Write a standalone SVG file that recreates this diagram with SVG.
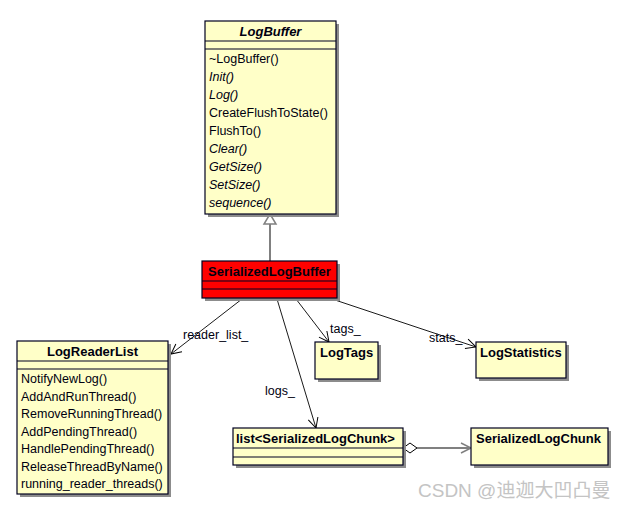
<svg xmlns="http://www.w3.org/2000/svg" width="624" height="510" viewBox="0 0 624 510">
<defs>
<style>
.box{fill:#ffffc8;stroke:#000020;stroke-width:1.2}
.red{fill:#ff0000;stroke:#000020;stroke-width:1.2}
.sh{fill:#8c8c8c}
.sep{stroke:#000020;stroke-width:1.2}
.t{font-family:"Liberation Sans",Arial,sans-serif;font-size:12.5px;fill:#000010}
.i{font-style:italic}
.b{font-weight:bold;font-size:13px}
.assoc{stroke:#000;stroke-width:0.9;fill:none}
.gray{stroke:#808080;stroke-width:2;fill:none}
.lbl{font-family:"Liberation Sans",Arial,sans-serif;font-size:12.5px;fill:#000010}
.wm{font-family:"Liberation Sans","Noto Sans CJK SC",sans-serif;font-size:19px;fill:#c4c4c4}
</style>
<marker id="open" markerUnits="userSpaceOnUse" markerWidth="14" markerHeight="14" refX="11" refY="6" orient="auto" viewBox="0 0 14 12">
<path d="M1,1 L11,6 L1,11" fill="none" stroke="#000" stroke-width="1"/>
</marker>
<marker id="openg" markerUnits="userSpaceOnUse" markerWidth="14" markerHeight="14" refX="11" refY="6" orient="auto" viewBox="0 0 14 12">
<path d="M1,1 L11,6 L1,11" fill="none" stroke="#808080" stroke-width="1.5"/>
</marker>
</defs>
<rect width="624" height="510" fill="#ffffff"/>

<g id="connectors">
<line class="gray" x1="270" y1="261" x2="270" y2="224"/>
<path d="M270,214 L276,224 L264,224 Z" fill="#ffffff" stroke="#808080" stroke-width="1.5"/>
<line class="assoc" x1="242" y1="299" x2="171" y2="354" marker-end="url(#open)"/>
<line class="assoc" x1="277" y1="299" x2="316" y2="428" marker-end="url(#open)"/>
<line class="assoc" x1="296" y1="299" x2="329" y2="342" marker-end="url(#open)"/>
<line class="assoc" x1="335" y1="300" x2="476" y2="347" marker-end="url(#open)"/>
<line class="gray" x1="417" y1="448" x2="471" y2="448" marker-end="url(#openg)"/>
<path d="M403,448 L410,443 L417,448 L410,453 Z" fill="#ffffff" stroke="#000" stroke-width="1"/>
<text class="lbl" x="183" y="339">reader_list_</text>
<text class="lbl" x="265" y="395">logs_</text>
<text class="lbl" x="330" y="333">tags_</text>
<text class="lbl" x="429" y="342">stats_</text>
</g>

<g id="LogBuffer">
<rect class="sh" x="208" y="24" width="131" height="193"/>
<rect class="box" x="205" y="21" width="131" height="193"/>
<line class="sep" x1="205" y1="41" x2="336" y2="41"/>
<line class="sep" x1="205" y1="49" x2="336" y2="49"/>
<text class="t b i" x="270.5" y="36" text-anchor="middle">LogBuffer</text>
<text class="t" x="209" y="63">~LogBuffer()</text>
<text class="t i" x="209" y="81">Init()</text>
<text class="t i" x="209" y="99">Log()</text>
<text class="t" x="209" y="117">CreateFlushToState()</text>
<text class="t" x="209" y="135">FlushTo()</text>
<text class="t i" x="209" y="153">Clear()</text>
<text class="t i" x="209" y="171">GetSize()</text>
<text class="t i" x="209" y="189">SetSize()</text>
<text class="t i" x="209" y="207">sequence()</text>
</g>

<g id="SerializedLogBuffer">
<rect class="sh" x="205" y="264" width="135" height="37"/>
<rect class="red" x="202" y="261" width="135" height="37"/>
<line class="sep" x1="202" y1="281" x2="337" y2="281"/>
<line class="sep" x1="202" y1="289" x2="337" y2="289"/>
<text class="t b" x="269.5" y="276" text-anchor="middle">SerializedLogBuffer</text>
</g>

<g id="LogReaderList">
<rect class="sh" x="20" y="344" width="151" height="153"/>
<rect class="box" x="17" y="341" width="151" height="153"/>
<line class="sep" x1="17" y1="361" x2="168" y2="361"/>
<line class="sep" x1="17" y1="369" x2="168" y2="369"/>
<text class="t b" x="92.5" y="356" text-anchor="middle">LogReaderList</text>
<text class="t" x="21" y="383">NotifyNewLog()</text>
<text class="t" x="21" y="400.5">AddAndRunThread()</text>
<text class="t" x="21" y="418">RemoveRunningThread()</text>
<text class="t" x="21" y="435.5">AddPendingThread()</text>
<text class="t" x="21" y="453">HandlePendingThread()</text>
<text class="t" x="21" y="470.5">ReleaseThreadByName()</text>
<text class="t" x="21" y="488">running_reader_threads()</text>
</g>

<g id="LogTags">
<rect class="sh" x="318" y="345" width="63" height="37"/>
<rect class="box" x="315" y="342" width="63" height="37"/>
<text class="t b" x="320" y="357">LogTags</text>
</g>

<g id="LogStatistics">
<rect class="sh" x="479" y="345" width="90" height="36"/>
<rect class="box" x="476" y="342" width="90" height="36"/>
<text class="t b" x="480" y="357">LogStatistics</text>
</g>

<g id="ListSerializedLogChunk">
<rect class="sh" x="236" y="431" width="170" height="37"/>
<rect class="box" x="233" y="428" width="170" height="37"/>
<line class="sep" x1="233" y1="448" x2="403" y2="448"/>
<line class="sep" x1="233" y1="457" x2="403" y2="457"/>
<text class="t b" x="236" y="443">list&lt;SerializedLogChunk&gt;</text>
</g>

<g id="SerializedLogChunk">
<rect class="sh" x="474" y="431" width="137" height="37"/>
<rect class="box" x="471" y="428" width="137" height="37"/>
<text class="t b" x="476" y="443">SerializedLogChunk</text>
</g>

<text class="wm" x="418" y="497">CSDN @迪迦大凹凸曼</text>
</svg>
